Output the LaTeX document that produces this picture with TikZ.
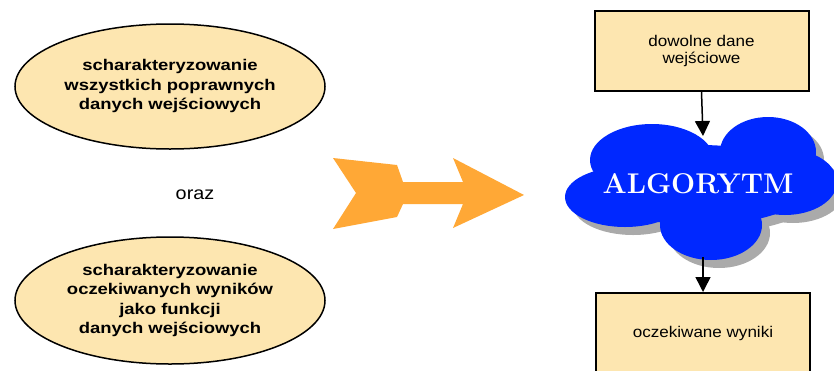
\documentclass[tikz,border=0pt]{standalone}
\usepackage{fontspec}
\setmainfont{Liberation Sans}[FakeStretch=1.1]
\newfontfamily\widesans{Liberation Sans}[FakeStretch=1.19]
\newfontfamily\lmr{Latin Modern Roman}
\usetikzlibrary{shapes.geometric,arrows.meta}
\definecolor{tan}{RGB}{253,230,176}
\definecolor{cloudblue}{RGB}{0,40,255}
\definecolor{shadowgray}{RGB}{170,170,170}
\definecolor{orangearrow}{RGB}{255,168,54}
\tikzset{
  oval/.style={ellipse,draw=black,line width=1.5pt,fill=tan,minimum width=310pt,inner sep=0pt,
    align=center,font=\widesans\fontsize{15.5}{19.5}\selectfont\bfseries},
  boxnode/.style={rectangle,draw=black,line width=2pt,fill=tan,minimum width=214pt,
    align=center,font=\fontsize{15.5}{17}\selectfont},
  conn/.style={line width=1.5pt,-{Triangle[length=15pt,width=15pt]}},
  lobes/.pic={
    \fill (652,160) ellipse [x radius=62, y radius=36];
    \fill (625,197) ellipse [x radius=60, y radius=30];
    \fill (711,225) ellipse [x radius=51, y radius=35];
    \fill (768,152) ellipse [x radius=48, y radius=35];
    \fill (785,182) ellipse [x radius=52, y radius=33];
    \fill (700,185) ellipse [x radius=110, y radius=40];
  }
}
\begin{document}
\begin{tikzpicture}[x=1pt,y=-1pt]
\clip (0,0) rectangle (834,370);
\useasboundingbox (0,0) rectangle (834,370);
% ellipses
\node[oval,minimum height=125pt] (e1) at (170,86.5) {\raisebox{4pt}{\begin{tabular}{@{}c@{}}scharakteryzowanie\\wszystkich poprawnych\\danych wejściowych\end{tabular}}};
\node[oval,minimum height=127pt] (e2) at (170,300.5) {scharakteryzowanie\\oczekiwanych wyników\\jako funkcji\\danych wejściowych};
\node[font=\fontsize{18}{20}\selectfont] (oraz) at (195,195) {oraz};
% big orange arrow
\fill[orangearrow] (333,158) -- (397,165) -- (403,182) -- (463,182) -- (453,158) -- (524,195)
  -- (453,228) -- (463,204) -- (403,204) -- (397,217) -- (333,229) -- (356,193) -- cycle;
% cloud
\begin{scope}[shift={(8,8)},shadowgray]
  \pic[fill=shadowgray] {lobes};
\end{scope}
\begin{scope}[cloudblue]
  \pic[fill=cloudblue] {lobes};
\end{scope}
\node[text=white,font=\lmr\bfseries\fontsize{28.5}{32}\selectfont] (alg) at (698,184) {ALGORYTM};
\coordinate (cin) at (703,136);
\coordinate (cout) at (703,257);
% boxes
\node[boxnode,minimum height=80pt] (in) at (701.5,51) {dowolne dane\\wejściowe};
\node[boxnode,minimum height=86pt,anchor=north] (out) at (703,292) {\raisebox{9pt}{oczekiwane wyniki}};
% connectors
\draw[conn] (in.south) -- (cin);
\draw[conn] (cout) -- (out.north);
\end{tikzpicture}
\end{document}
